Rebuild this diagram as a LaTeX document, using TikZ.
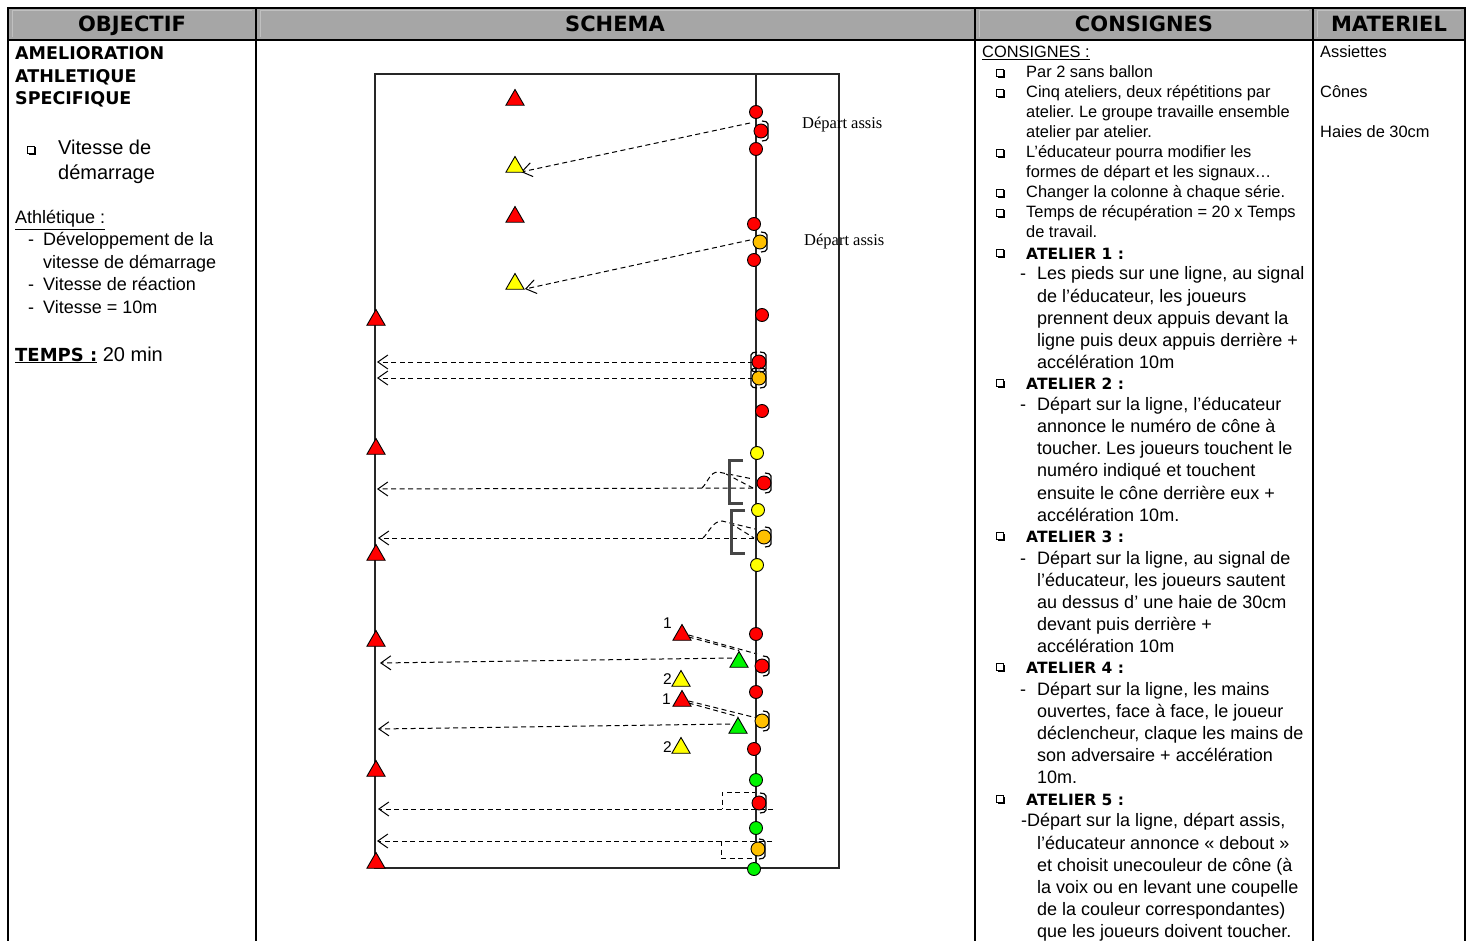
\documentclass[tikz,border=0pt]{standalone}
\usepackage{fontspec}
\setmainfont{Liberation Sans}[BoldFont={DejaVu Sans Bold}]
\newfontfamily\depfont{Liberation Serif}
\usetikzlibrary{shapes.geometric,arrows.meta,backgrounds}
\definecolor{hdr}{RGB}{166,166,166}
\definecolor{hdrl}{RGB}{192,192,192}
\definecolor{cred}{RGB}{255,0,0}
\definecolor{cyel}{RGB}{255,255,0}
\definecolor{cora}{RGB}{255,192,0}
\definecolor{cgrn}{RGB}{0,245,0}
\definecolor{brkgray}{RGB}{70,70,70}
\frenchspacing
\newcommand\rbk[1]{\draw[brk] (#1.center) ++(1,-10) -- ++(6,1) -- ++(0,18) -- ++(-6,1);}
\newcommand\lbk[1]{\draw[brk] (#1.center) ++(-2,-10) -- ++(-6,1) -- ++(0,18) -- ++(6,1);}
\begin{document}
\begin{tikzpicture}[x=1pt,y=-1pt,
  dot/.style={circle,draw=black,line width=0.9pt,minimum size=13pt,inner sep=0pt},
  pl/.style={dot,minimum size=14pt},
  tri/.style={regular polygon,regular polygon sides=3,draw=black,line width=0.9pt,minimum size=21pt,inner sep=0pt},
  mv/.style={dash pattern=on 5pt off 3.5pt,line width=1pt},
  arr/.style={mv,-{Straight Barb[length=10pt,width=14pt,line width=1pt]}},
  brk/.style={line width=1.2pt,rounded corners=2pt},
  bigbrk/.style={line width=3pt,draw=brkgray},
  hd/.style={anchor=base,inner sep=0pt,font=\bfseries\fontsize{21}{24}\selectfont},
  sm/.style={anchor=base west,inner sep=0pt,font=\fontsize{16.4}{20}\selectfont},
  md/.style={anchor=base west,inner sep=0pt,font=\fontsize{18}{22}\selectfont},
  lg/.style={anchor=base west,inner sep=0pt,font=\fontsize{20}{24}\selectfont},
  atl/.style={anchor=base west,inner sep=0pt,font=\bfseries\fontsize{15.5}{20}\selectfont},
  ob/.style={anchor=base west,inner sep=0pt,font=\bfseries\fontsize{17.5}{22}\selectfont},
  dep/.style={anchor=base west,inner sep=0pt,font=\depfont\fontsize{16.5}{19}\selectfont},
  num/.style={anchor=base west,inner sep=0pt,font=\fontsize{15.5}{18}\selectfont},
  sqb/.pic={\fill[black] (-2.5,-2.5) rectangle (5,5);
            \filldraw[fill=white,draw=black,line width=0.9pt] (-4,-4) rectangle (3.5,3.5);}
]
\useasboundingbox (0,0) rectangle (1471,941);
% ---------- table ----------
\fill[hdr] (8,8) rectangle (1465,40);
\foreach \a/\b in {8/256,256/975,975/1313,1313/1465}
  \draw[hdrl,line width=1pt] (\a+4,37) -- (\a+4,11) -- (\b-4,11);
\draw[line width=1.2pt] (8,941) -- (8,8) -- (1465,8) -- (1465,941);
\draw[line width=1.2pt] (8,40) -- (1465,40);
\foreach \x in {256,975,1313} \draw[line width=1.2pt] (\x,8) -- (\x,941);
\node[hd] (h1) at (132,32) {OBJECTIF};
\node[hd] (h2) at (615,32) {SCHEMA};
\node[hd] (h3) at (1144,32) {CONSIGNES};
\node[hd] (h4) at (1389,32) {MATERIEL};
% ---------- objectif ----------
\node[ob] (o1) at (15,60) {AMELIORATION};
\node[ob] (o2) at (15,83) {ATHLETIQUE};
\node[ob] (o3) at (15,105) {SPECIFIQUE};
\pic at (31,150) {sqb};
\node[lg] (o4) at (58,155) {Vitesse de};
\node[lg] (o5) at (58,180) {démarrage};
\node[md] (o6) at (15,224) {\underline{Athlétique :}};
\foreach \n/\Yy in {1/246,2/290,3/313} \node[md] (od\n) at (28,\Yy) {-};
\node[md] (o7) at (43,246) {Développement de la};
\node[md] (o8) at (43,268) {vitesse de démarrage};
\node[md] (o9) at (43,290) {Vitesse de réaction};
\node[md] (o10) at (43,313) {Vitesse = 10m};
\node[lg] (o11) at (15,361) {{\bfseries\fontsize{18}{24}\selectfont\underline{TEMPS :}} 20 min};
% ---------- materiel ----------
\node[sm] (m1) at (1320,58) {Assiettes};
\node[sm] (m2) at (1320,98) {Cônes};
\node[sm] (m3) at (1320,138) {Haies de 30cm};
% ---------- consignes ----------
\node[sm] (c0) at (982,58) {\underline{CONSIGNES :}};
\foreach \Yy in {73,93,153,193,213,253,383,536,667,799} \pic at (1000,\Yy) {sqb};
\foreach \n/\Yy/\Tx in {1/78/{Par 2 sans ballon},
  2/98/{Cinq ateliers, deux répétitions par},
  3/118/{atelier. Le groupe travaille ensemble},
  4/138/{atelier par atelier.},
  5/158/{L’éducateur pourra modifier les},
  6/178/{formes de départ et les signaux…},
  7/198/{Changer la colonne à chaque série.},
  8/218/{Temps de récupération = 20 x Temps},
  9/237/{de travail.}}
  \node[sm] (c\n) at (1026,\Yy) {\Tx};
\foreach \n/\Yy in {1/259,2/389,3/542,4/673,5/805}
  \node[atl] (a\n) at (1026,\Yy) {ATELIER \n\ :};
\foreach \n/\Yy in {1/279,2/410,3/564,4/695}
  \node[md] (ad\n) at (1020,\Yy) {-};
\foreach \n/\Yy/\Tx in {
  11/279/{Les pieds sur une ligne, au signal},
  12/302/{de l’éducateur, les joueurs},
  13/324/{prennent deux appuis devant la},
  14/346/{ligne puis deux appuis derrière +},
  15/368/{accélération 10m},
  21/410/{Départ sur la ligne, l’éducateur},
  22/432/{annonce le numéro de cône à},
  23/454/{toucher. Les joueurs touchent le},
  24/476/{numéro indiqué et touchent},
  25/499/{ensuite le cône derrière eux +},
  26/521/{accélération 10m.},
  31/564/{Départ sur la ligne, au signal de},
  32/586/{l’éducateur, les joueurs sautent},
  33/608/{au dessus d’ une haie de 30cm},
  34/630/{devant puis derrière +},
  35/652/{accélération 10m},
  41/695/{Départ sur la ligne, les mains},
  42/717/{ouvertes, face à face, le joueur},
  43/739/{déclencheur, claque les mains de},
  44/761/{son adversaire + accélération},
  45/783/{10m.},
  52/849/{l’éducateur annonce « debout »},
  53/871/{et choisit unecouleur de cône (à},
  54/893/{la voix ou en levant une coupelle},
  55/915/{de la couleur correspondantes)},
  56/937/{que les joueurs doivent toucher.}}
  \node[md] (e\n) at (1037,\Yy) {\Tx};
\node[md] (e51) at (1021,826) {-Départ sur la ligne, départ assis,};
% ---------- schema ----------
\draw[line width=1.2pt,draw=black!85] (375,74) rectangle (839,868);
\draw[line width=1.2pt,draw=black!85] (756,74) -- (756,868);
% top: depart assis
\node[tri,fill=cred] (t1) at (515,100) {};
\node[tri,fill=cyel] (t2) at (515,167) {};
\node[tri,fill=cred] (t3) at (515,217) {};
\node[tri,fill=cyel] (t4) at (515,284) {};
\node[dot,fill=cred] (d1) at (756,112) {};
\node[pl,fill=cred] (p1) at (761,131) {};
\node[dot,fill=cred] (d2) at (756,149) {};
\node[dot,fill=cred] (d3) at (754,224) {};
\node[pl,fill=cora] (p2) at (760,242) {};
\node[dot,fill=cred] (d4) at (754,260) {};
\rbk{p1} \rbk{p2}
\node[dep] (dep1) at (802,129) {Départ assis};
\node[dep] (dep2) at (804,245) {Départ assis};
% left edge cones
\foreach \n/\Yy in {1/320,2/449,3/555,4/641,5/771,6/863}
  \node[tri,fill=cred] (L\n) at (376,\Yy) {};
% atelier 1
\node[dot,fill=cred] (d5) at (762,315) {};
\node[pl,fill=cred] (p3) at (759,362) {};
\node[pl,fill=cora] (p4) at (759,378) {};
\rbk{p3} \rbk{p4} \lbk{p3} \lbk{p4}
\node[dot,fill=cred] (d6) at (762,411) {};
% atelier 2
\node[dot,fill=cyel] (y1) at (757,453) {};
\node[pl,fill=cred] (p5) at (764,483) {};
\node[dot,fill=cyel] (y2) at (758,510) {};
\node[pl,fill=cora] (p6) at (764,537) {};
\node[dot,fill=cyel] (y3) at (757,565) {};
\rbk{p5} \rbk{p6}
\draw[bigbrk] (743,460) -- (729,460) -- (729,503) -- (743,503);
\draw[bigbrk] (745,510) -- (731,510) -- (731,553) -- (745,553);
% atelier 3
\node[dot,fill=cred] (d7) at (756,634) {};
\node[num] (n1) at (663,628) {1};
\node[tri,fill=cred] (r1) at (682,635) {};
\node[tri,fill=cgrn] (g1) at (739,662) {};
\node[pl,fill=cred] (p7) at (762,666) {};
\node[num] (n2) at (663,684) {2};
\node[tri,fill=cyel] (w1) at (681,681) {};
\node[dot,fill=cred] (d8) at (756,692) {};
\node[num] (n3) at (662,704) {1};
\node[tri,fill=cred] (r2) at (682,701) {};
\node[tri,fill=cgrn] (g2) at (738,728) {};
\node[pl,fill=cora] (p8) at (762,721) {};
\node[num] (n4) at (663,752) {2};
\node[tri,fill=cyel] (w2) at (681,748) {};
\node[dot,fill=cred] (d9) at (754,749) {};
\rbk{p7} \rbk{p8}
% atelier 5 (hands)
\node[dot,fill=cgrn] (gc1) at (756,780) {};
\node[pl,fill=cred] (p9) at (759,803) {};
\node[dot,fill=cgrn] (gc2) at (756,828) {};
\node[pl,fill=cora] (p10) at (758,849) {};
\node[dot,fill=cgrn] (gc3) at (754,869) {};
\rbk{p9} \rbk{p10}
% ---------- connectors ----------
\coordinate (s1) at (750,123); \coordinate (f1) at (521,172);
\coordinate (s2) at (750,240); \coordinate (f2) at (525,289);
\coordinate (s3) at (753,362); \coordinate (f3) at (377,362);
\coordinate (s4) at (753,378); \coordinate (f4) at (377,378);
\coordinate (s5) at (753,488); \coordinate (f5) at (377,489);
\coordinate (k5) at (718,472); \coordinate (j5) at (702,488);
\coordinate (u5) at (753,479);
\coordinate (s6) at (754,538); \coordinate (f6) at (378,538);
\coordinate (k6) at (722,521); \coordinate (j6) at (703,538);
\coordinate (u6) at (755,529);
\coordinate (s7) at (732,658); \coordinate (f7) at (380,663);
\coordinate (s8) at (730,724); \coordinate (f8) at (378,729);
\coordinate (s9) at (773,809); \coordinate (f9) at (378,809);
\coordinate (s10) at (772,841); \coordinate (f10) at (377,841);
\begin{scope}[on background layer]
  \draw[arr] (s1) -- (f1);
  \draw[arr] (s2) -- (f2);
  \draw[arr] (s3) -- (f3);
  \draw[arr] (s4) -- (f4);
  \draw[arr] (s5) -- (f5);
  \draw[mv] (j5) .. controls (708,482) and (710,472) .. (k5) -- (u5);
  \draw[mv] (k5) ++(8,2) -- (s5);
  \draw[arr] (s6) -- (f6);
  \draw[mv] (j6) .. controls (709,532) and (713,521) .. (k6) -- (u6);
  \draw[mv] (k6) ++(8,2) -- (s6);
  \draw[mv] (r1.east) -- (757,654);
  \draw[mv] (r1.east) ++(0,2) -- (g1.corner 1);
  \draw[arr] (s7) -- (f7);
  \draw[mv] (r2.east) -- (757,718);
  \draw[mv] (r2.east) ++(0,2) -- (g2.corner 1);
  \draw[arr] (s8) -- (f8);
  \draw[mv] (757,792) -- (722,792) -- (722,809);
  \draw[arr] (s9) -- (f9);
  \draw[arr] (s10) -- (f10);
  \draw[mv] (721,841) -- (721,858) -- (757,858);
\end{scope}
\end{tikzpicture}
\end{document}
